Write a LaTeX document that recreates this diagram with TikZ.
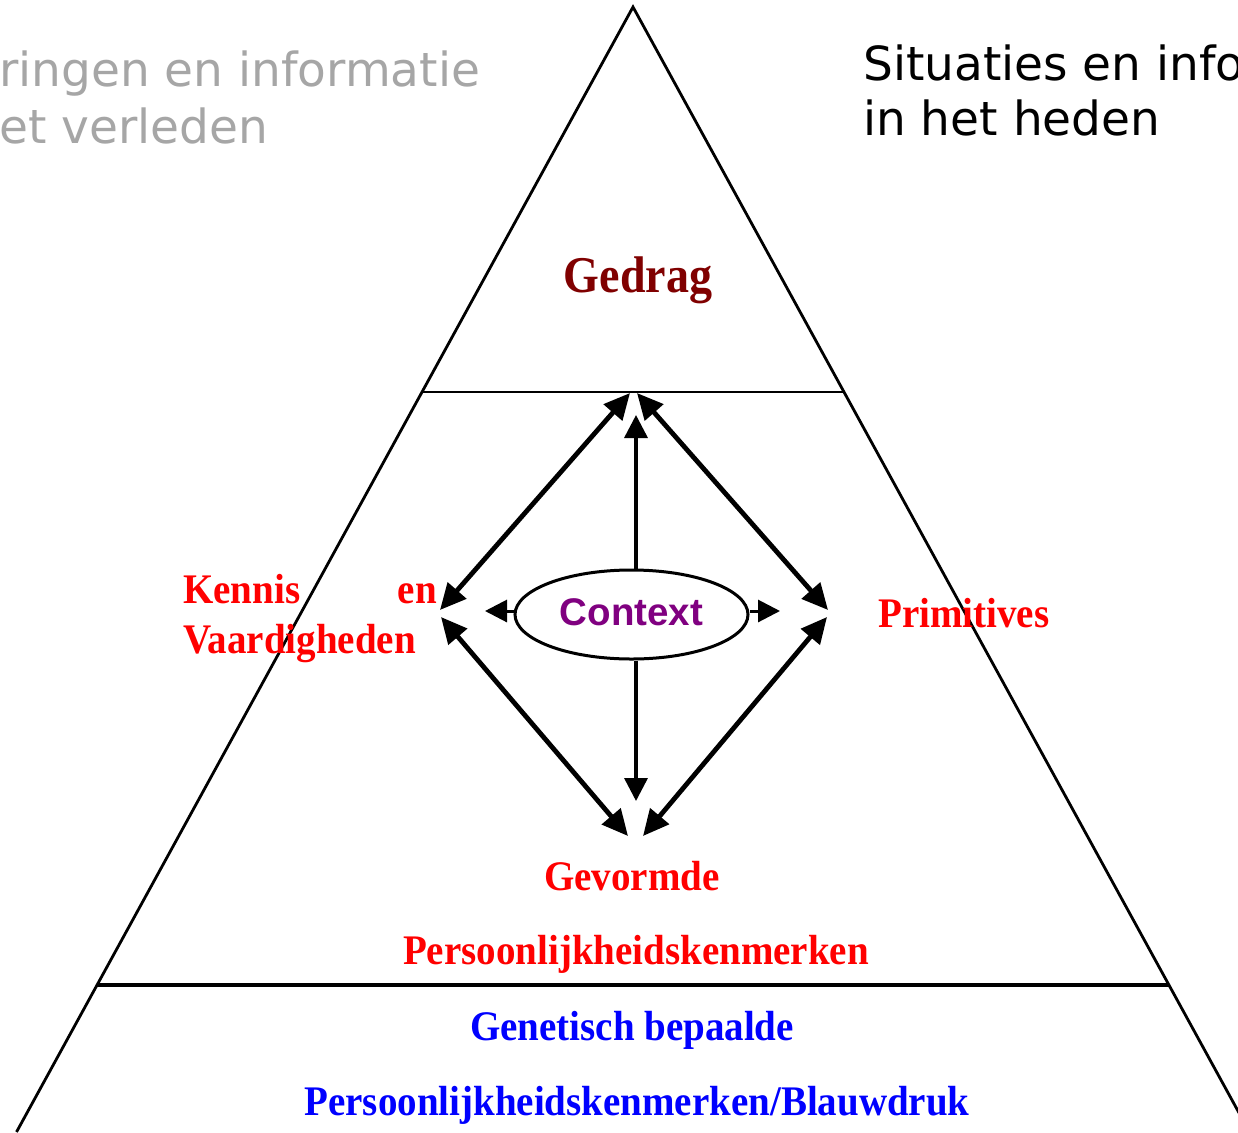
\documentclass[tikz,border=0pt]{standalone}
\usepackage{fontspec}
\setmainfont{Liberation Serif}
\newfontfamily\verdfont{DejaVu Sans}
\newfontfamily\arialfont{Liberation Sans}
\usetikzlibrary{arrows.meta,shapes.geometric}
\definecolor{grtxt}{RGB}{166,166,166}
\definecolor{darkred}{RGB}{128,0,0}
\definecolor{ctxpurple}{RGB}{128,0,128}
\newcommand{\talltext}[1]{\scalebox{1}[1.08]{#1}}
\tikzset{
  headtxt/.style={inner sep=0pt, font=\verdfont\fontsize{47}{54}\selectfont},
  redtxt/.style={inner sep=0pt, text=red, font=\bfseries\fontsize{39}{44}\selectfont},
  bluetxt/.style={inner sep=0pt, text=blue, font=\bfseries\fontsize{39}{44}\selectfont},
  dblarrow/.style={line width=4.8pt, {Triangle[length=26pt,width=24pt]}-{Triangle[length=26pt,width=24pt]}},
  onearrow/.style={line width=3.5pt, -{Triangle[length=23pt,width=23pt]}},
  triline/.style={line width=2.8pt},
}
\begin{document}
\begin{tikzpicture}[x=1pt,y=-1pt]
\useasboundingbox (0,0) rectangle (1238,1132);
\fill[white] (0,0) rectangle (1238,1132);
\clip (0,0) rectangle (1238,1132);
% pyramid
\coordinate (apex) at (633,7);
\coordinate (botL) at (16.5,1132);
\coordinate (botR) at (1249.5,1132);
\draw[triline, line join=miter] (botL) -- (apex) -- (botR);
\coordinate (h1L) at (422,392);
\coordinate (h1R) at (844,392);
\coordinate (h2L) at (97,985);
\coordinate (h2R) at (1169,985);
\draw[line width=2.8pt] (h1L) -- (h1R);
\draw[line width=3.3pt] (h2L) -- (h2R);
% header texts
\node[headtxt, text=grtxt, anchor=base west] (past1) at (-1,86) {ringen en informatie};
\node[headtxt, text=grtxt, anchor=base west] (past2) at (-1,143) {et verleden};
\node[headtxt, text=black, anchor=base west] (now1) at (863,80) {Situaties en info};
\node[headtxt, text=black, anchor=base west] (now2) at (863,135) {in het heden};
% level texts
\node[inner sep=0pt, text=darkred, font=\bfseries\fontsize{46}{50}\selectfont, anchor=base] (gedrag) at (638,292) {\scalebox{1}[1.12]{Gedrag}};
\node[redtxt, anchor=base west] (kennis) at (183,603) {\talltext{Kennis}};
\node[redtxt, anchor=base east] (en) at (437,603) {\talltext{en}};
\node[redtxt, anchor=base west] (vaard) at (183,653) {\talltext{Vaardigheden}};
\node[redtxt, anchor=base west] (prim) at (878,627) {\talltext{Primitives}};
\node[redtxt, anchor=base] (gevormde) at (632,890) {\talltext{Gevormde}};
\node[redtxt, anchor=base] (pers) at (636,964) {\talltext{Persoonlijkheidskenmerken}};
\node[bluetxt, anchor=base] (genet) at (632,1040) {\talltext{Genetisch bepaalde}};
\node[bluetxt, anchor=base] (blauw) at (637,1115) {\talltext{Persoonlijkheidskenmerken/Blauwdruk}};
% context ellipse
\node[ellipse, draw, line width=3pt, minimum width=233pt, minimum height=89pt, inner sep=0pt,
      text=ctxpurple, font=\arialfont\bfseries\fontsize{38.5}{40}\selectfont] (ctx) at (631.5,614.5) {\raisebox{4pt}{Context}};
% diamond vertices
\coordinate (T1) at (630,393);
\coordinate (T2) at (637,393);
\coordinate (L1) at (440,610);
\coordinate (L2) at (441,617);
\coordinate (B1) at (628,836);
\coordinate (B2) at (643,836);
\coordinate (R1) at (828,610);
\coordinate (R2) at (827,617);
\draw[dblarrow] (T1) -- (L1);
\draw[dblarrow] (L2) -- (B1);
\draw[dblarrow] (B2) -- (R2);
\draw[dblarrow] (R1) -- (T2);
% context arrows
\coordinate (up) at (636,415);
\coordinate (down) at (636,801);
\coordinate (left) at (485,611);
\coordinate (right) at (780,611);
\draw[onearrow] (ctx.north -| up) -- (up);
\draw[onearrow] (ctx.south -| down) -- (down);
\draw[line width=3pt, -{Triangle[length=22pt,width=22pt]}] (ctx.west |- left) -- (left);
\draw[line width=3pt, -{Triangle[length=22pt,width=22pt]}] (ctx.east |- right) -- (right);
\end{tikzpicture}
\end{document}
